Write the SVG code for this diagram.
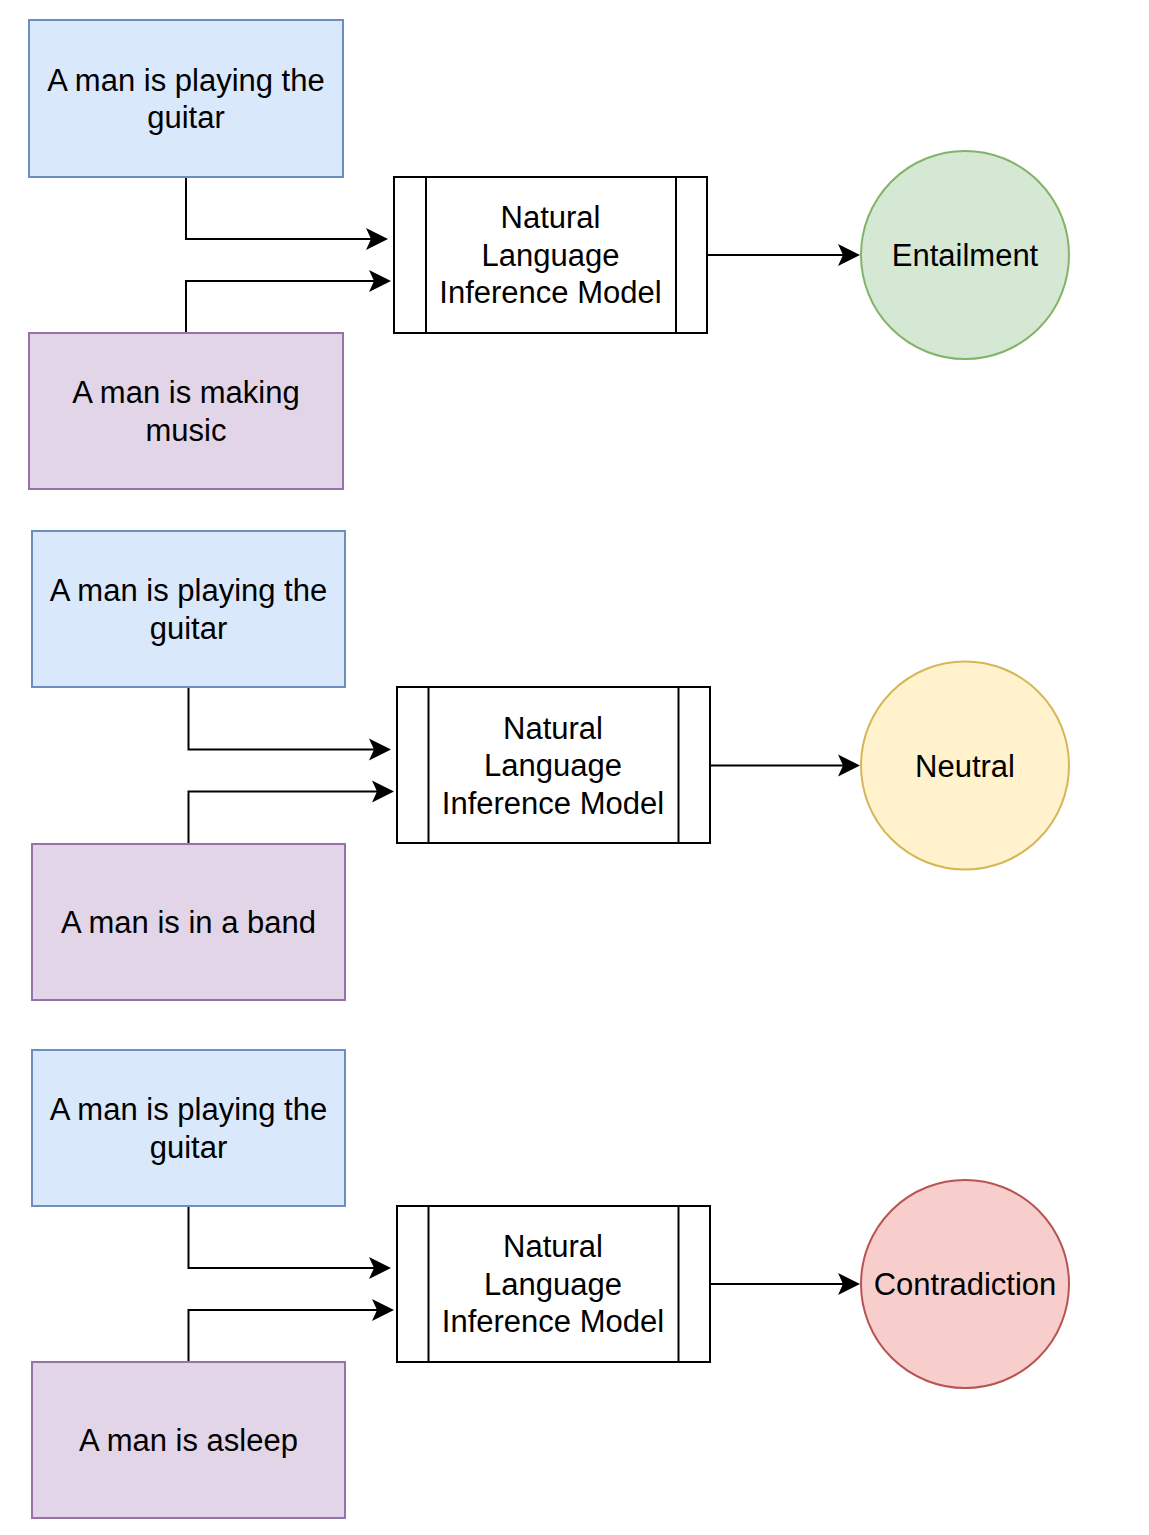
<svg xmlns="http://www.w3.org/2000/svg" width="1149" height="1535" viewBox="0 0 1149 1535">
<defs>
<style>
.t{font-family:"Liberation Sans",Arial,sans-serif;font-size:31px;fill:#000;text-anchor:middle}
.blue{fill:#dae8fc;stroke:#6c8ebf;stroke-width:2}
.purple{fill:#e1d5e7;stroke:#9673a6;stroke-width:2}
.proc{fill:#fff;stroke:#000;stroke-width:2}
.green{fill:#d5e8d4;stroke:#82b366;stroke-width:2}
.yellow{fill:#fff2cc;stroke:#d6b656;stroke-width:2}
.red{fill:#f8cecc;stroke:#b85450;stroke-width:2}
.edge{fill:none;stroke:#000;stroke-width:2}
</style>
<marker id="arrow" markerUnits="userSpaceOnUse" viewBox="0 0 24 24" markerWidth="24" markerHeight="24" refX="6" refY="12" orient="auto">
<path d="M1,1 L23,12 L1,23 L6,12 Z" fill="#000"/>
</marker>
</defs>
<rect width="1149" height="1535" fill="#fff"/>

<g id="connectors">
<path class="edge" d="M186,177 V239 H371" marker-end="url(#arrow)"/>
<path class="edge" d="M186,333 V281 H374" marker-end="url(#arrow)"/>
<path class="edge" d="M707,255 H843" marker-end="url(#arrow)"/>

<path class="edge" d="M188.5,687 V749.5 H374" marker-end="url(#arrow)"/>
<path class="edge" d="M188.5,844 V791.5 H377" marker-end="url(#arrow)"/>
<path class="edge" d="M710,765.5 H843" marker-end="url(#arrow)"/>

<path class="edge" d="M188.5,1206 V1268 H374" marker-end="url(#arrow)"/>
<path class="edge" d="M188.5,1362 V1310 H377" marker-end="url(#arrow)"/>
<path class="edge" d="M710,1284 H843" marker-end="url(#arrow)"/>
</g>

<g id="premise1">
<rect class="blue" x="29" y="20" width="314" height="157"/>
<text class="t" x="186" y="90.5">A man is playing the</text>
<text class="t" x="186" y="128">guitar</text>
</g>
<g id="hypothesis1">
<rect class="purple" x="29" y="333" width="314" height="156"/>
<text class="t" x="186" y="403">A man is making</text>
<text class="t" x="186" y="440.5">music</text>
</g>
<g id="model1">
<rect class="proc" x="394" y="177" width="313" height="156"/>
<line class="proc" x1="426" y1="177" x2="426" y2="333"/>
<line class="proc" x1="676" y1="177" x2="676" y2="333"/>
<text class="t" x="550.5" y="228">Natural</text>
<text class="t" x="550.5" y="265.5">Language</text>
<text class="t" x="550.5" y="303">Inference Model</text>
</g>
<g id="entailment">
<circle class="green" cx="965" cy="255" r="104"/>
<text class="t" x="965" y="266">Entailment</text>
</g>

<g id="premise2">
<rect class="blue" x="32" y="531" width="313" height="156"/>
<text class="t" x="188.5" y="601">A man is playing the</text>
<text class="t" x="188.5" y="638.5">guitar</text>
</g>
<g id="hypothesis2">
<rect class="purple" x="32" y="844" width="313" height="156"/>
<text class="t" x="188.5" y="933">A man is in a band</text>
</g>
<g id="model2">
<rect class="proc" x="397" y="687" width="313" height="156"/>
<line class="proc" x1="428.5" y1="687" x2="428.5" y2="843"/>
<line class="proc" x1="678.5" y1="687" x2="678.5" y2="843"/>
<text class="t" x="553" y="738.5">Natural</text>
<text class="t" x="553" y="776">Language</text>
<text class="t" x="553" y="813.5">Inference Model</text>
</g>
<g id="neutral">
<circle class="yellow" cx="965" cy="765.5" r="104"/>
<text class="t" x="965" y="776.5">Neutral</text>
</g>

<g id="premise3">
<rect class="blue" x="32" y="1050" width="313" height="156"/>
<text class="t" x="188.5" y="1120">A man is playing the</text>
<text class="t" x="188.5" y="1157.5">guitar</text>
</g>
<g id="hypothesis3">
<rect class="purple" x="32" y="1362" width="313" height="156"/>
<text class="t" x="188.5" y="1451">A man is asleep</text>
</g>
<g id="model3">
<rect class="proc" x="397" y="1206" width="313" height="156"/>
<line class="proc" x1="428.5" y1="1206" x2="428.5" y2="1362"/>
<line class="proc" x1="678.5" y1="1206" x2="678.5" y2="1362"/>
<text class="t" x="553" y="1257">Natural</text>
<text class="t" x="553" y="1294.5">Language</text>
<text class="t" x="553" y="1332">Inference Model</text>
</g>
<g id="contradiction">
<circle class="red" cx="965" cy="1284" r="104"/>
<text class="t" x="965" y="1295">Contradiction</text>
</g>
</svg>
